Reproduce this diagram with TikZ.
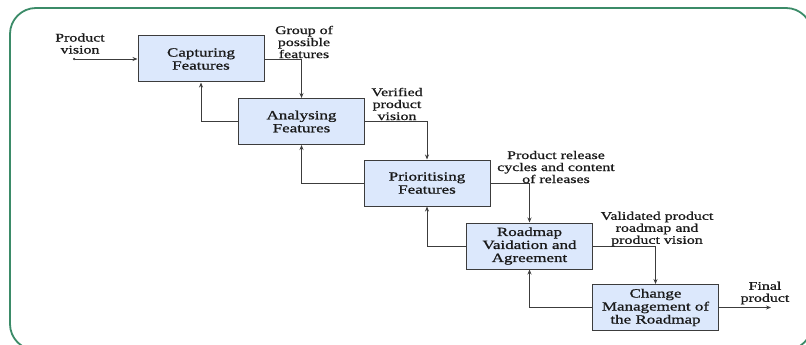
\documentclass[tikz,border=0pt]{standalone}
\usepackage{fontspec}
\setmainfont{Liberation Serif}[FakeStretch=1.36,FakeBold=1]
\usetikzlibrary{arrows.meta}
\definecolor{framegreen}{HTML}{3B8B68}
\definecolor{boxfill}{HTML}{DCE8FC}
\definecolor{boxline}{HTML}{3C3C3C}
\definecolor{ink}{HTML}{1A1A1A}
\tikzset{
  box/.style={draw=boxline, line width=1pt, fill=boxfill, align=center,
    minimum width=126pt, minimum height=46pt, inner sep=2pt, text=ink,
    font=\fontsize{12.5pt}{13pt}\selectfont},
  arr/.style={-{Stealth[length=5pt,width=4pt]}, line width=0.9pt, color=boxline},
  lab/.style={font=\fontsize{11.7pt}{12pt}\selectfont, text=ink, align=center, inner sep=0pt},
}

\begin{document}
\begin{tikzpicture}[x=1pt,y=-1pt]
    \useasboundingbox (0,0) rectangle (806,345);
    \begin{scope}
      \clip (0,0) rectangle (806,345);
      \draw[framegreen, line width=1.8pt, rounded corners=26pt] (10,8) rectangle (812,350);
    \end{scope}
    % process steps
    \node[box] (cap) at (201,59) {Capturing\\Features};
    \node[box] (ana) at (301.5,121.5) {Analysing\\Features};
    \node[box] (pri) at (427,183) {Prioritising\\Features};
    \node[box] (rmv) at (529.5,246) {Roadmap\\Vaidation and\\Agreement};
    \node[box] (chg) at (655.5,307.5) {Change\\Management of\\the Roadmap};
    \coordinate (pvin) at (73,59);
    \coordinate (fpout) at (771,307.5);
    % flow down
    \draw[arr, {Circle[length=2.2pt]}-{Stealth[length=5pt,width=4pt]}] (pvin) -- (cap.west);
    \draw[arr] (cap.east) -| (ana.north);
    \draw[arr] (ana.east) -| (pri.north);
    \draw[arr] (pri.east) -| (rmv.north);
    \draw[arr] (rmv.east) -| (chg.north);
    \draw[arr] (chg.east) -- (fpout);
    % feedback
    \draw[arr] (ana.west) -| (cap.south);
    \draw[arr] (pri.west) -| (ana.south);
    \draw[arr] (rmv.west) -| (pri.south);
    \draw[arr] (chg.west) -| (rmv.south);
    % labels
    \node[lab] (lpv) at (80,43.5) {Product\\vision};
    \node[lab] (lgrp) at (304,42) {Group of\\possible\\features};
    \node[lab] (lver) at (397,104) {Verified\\product\\vision};
    \node[lab] (lrel) at (556,167) {Product release\\cycles and content\\of releases};
    \node[lab] (lval) at (657,229) {Validated product\\roadmap and\\product vision};
    \node[lab] (lfin) at (765,293) {Final\\product};
\end{tikzpicture}
\end{document}
